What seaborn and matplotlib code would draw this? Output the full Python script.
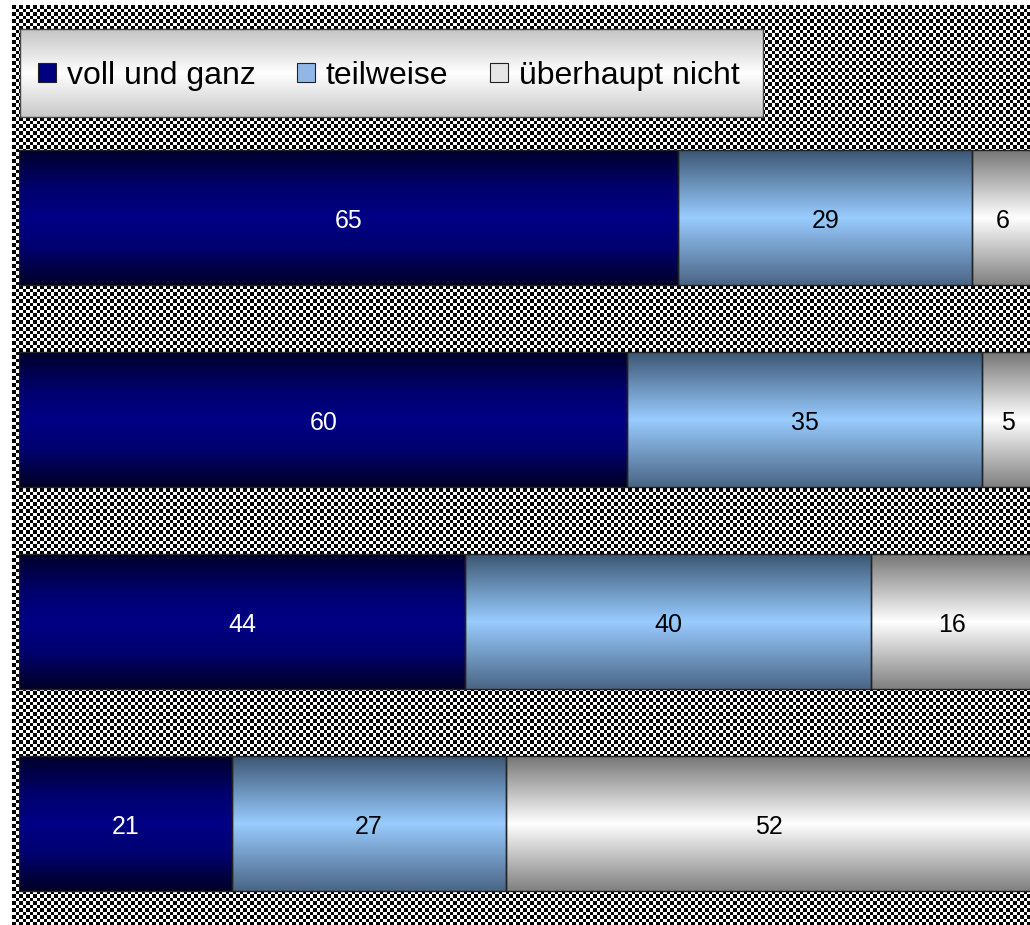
import numpy as np
import pandas as pd
import seaborn as sns
import matplotlib.pyplot as plt
from matplotlib.colors import LinearSegmentedColormap
from matplotlib.patches import Patch

# data
rows = ["1", "2", "3", "4"]
series_names = ["voll und ganz", "teilweise", "überhaupt nicht"]
voll = [65, 60, 44, 21]
teilweise = [29, 35, 40, 27]
ueberhaupt = [6, 5, 16, 52]

plt.rcParams["font.family"] = ["Liberation Sans", "DejaVu Sans"]

W, H = 1030, 925
fig = plt.figure(figsize=(W / 100, H / 100), dpi=100, facecolor="white")

# checkered background, drawn pixel for pixel
bw, bh = W - 12, H - 5
ci = (np.arange(bh) / 3.5).astype(int)
cj = (np.arange(bw) / 3.5).astype(int)
checker = ((ci[:, None] + cj[None, :]) % 2).astype(float)
fig.figimage(checker, xo=12, yo=0, origin="upper", cmap="gray", vmin=0, vmax=1, zorder=0)

# main bars
ax = fig.add_axes([19 / W, 0, 1014 / W, 1], zorder=1)
ax.patch.set_alpha(0)

df = pd.DataFrame({"row": rows, "voll": voll, "teil": teilweise, "nicht": ueberhaupt})
lefts = [np.zeros(len(rows)), np.array(voll), np.array(voll) + np.array(teilweise)]
cols = ["voll", "teil", "nicht"]

cmaps = [
    LinearSegmentedColormap.from_list("navy", [(0, "#00002c"), (0.3, "#000070"), (0.5, "#000085"), (0.72, "#000070"), (1, "#000026")]),
    LinearSegmentedColormap.from_list("blue", [(0, "#3c5673"), (0.5, "#99ccff"), (1, "#4a6585")]),
    LinearSegmentedColormap.from_list("gray", [(0, "#767676"), (0.5, "#ffffff"), (1, "#808080")]),
]
flat = ["#000080", "#8fb8e8", "#e6e6e6"]
label_colors = ["white", "black", "black"]

grad = np.linspace(0, 1, 256).reshape(-1, 1)
for col, left, cmap, lc in zip(cols, lefts, cmaps, label_colors):
    sns.barplot(data=df, x=col, y="row", orient="h", width=0.668,
                errorbar=None, facecolor="none", edgecolor="#222222",
                linewidth=1, zorder=2, ax=ax)
    cont = ax.containers[-1]
    for bar, l in zip(cont, left):
        bar.set_x(l)
        x0, y0 = bar.get_x(), bar.get_y()
        w, h = bar.get_width(), bar.get_height()
        im = ax.imshow(grad, cmap=cmap, aspect="auto", origin="upper",
                       extent=(x0, x0 + w, y0 + h, y0), zorder=1.5,
                       interpolation="bilinear")
        im.set_clip_path(bar)
    anns = ax.bar_label(cont, labels=[str(v) for v in df[col]], label_type="center",
                        color=lc, fontsize=18, zorder=4)
    for a in anns:
        a.xyann = (0, -2.5)

ax.set_xlim(0, 100)
ax.set_ylim((H - 217.5) / 202, -217.5 / 202)
ax.axis("off")

# legend box with gradient
lax = fig.add_axes([20 / W, (H - 117) / H, 743 / W, 88 / H], zorder=3)
lgrad = LinearSegmentedColormap.from_list("lg", [(0, "#c4c4c4"), (0.5, "#ffffff"), (1, "#c8c8c8")])
lax.imshow(grad, cmap=lgrad, aspect="auto", extent=(0, 1, 0, 1), origin="upper")
lax.set_xticks([])
lax.set_yticks([])
for sp in lax.spines.values():
    sp.set_color("#444444")
    sp.set_linewidth(1)

handles = [Patch(facecolor=c, edgecolor="#222222", linewidth=0.8) for c in flat]
lax.legend(handles, series_names, loc="center left", bbox_to_anchor=(18 / 743, 0.47),
           ncol=3, frameon=False, fontsize=23, handlelength=0.55, handleheight=0.55,
           handletextpad=0.35, columnspacing=1.3, borderpad=0, borderaxespad=0)

fig.savefig("out.png", dpi=100)
